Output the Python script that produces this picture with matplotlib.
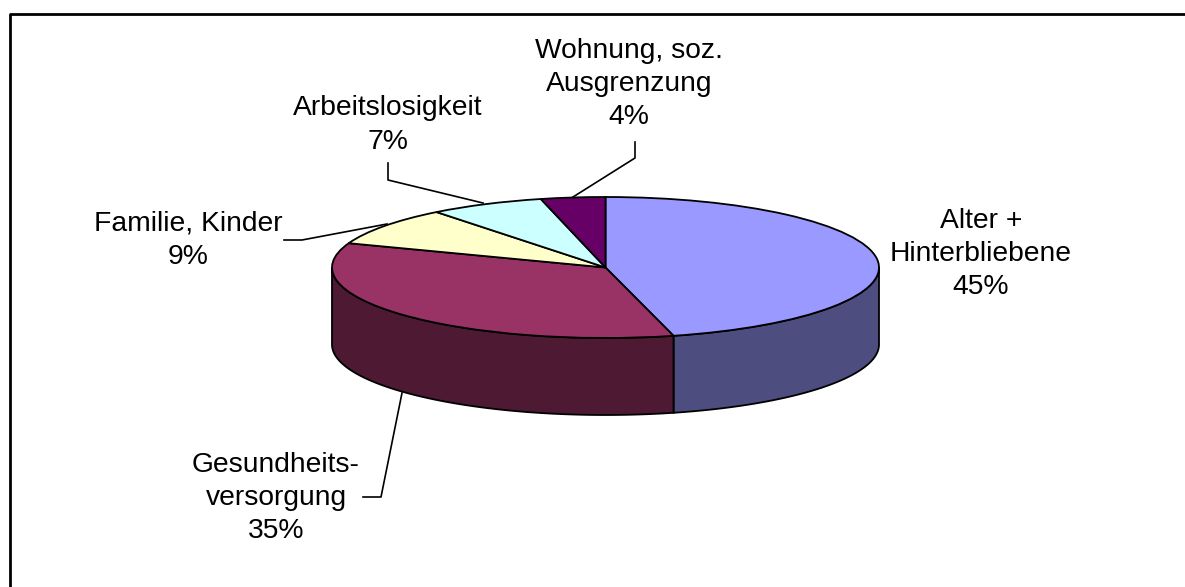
import numpy as np
import matplotlib
matplotlib.use('Agg')
import matplotlib.pyplot as plt
from matplotlib.transforms import Affine2D

plt.rcParams['font.family'] = ['Liberation Sans', 'DejaVu Sans']

W, H = 1185, 587

categories = ['Alter +\nHinterbliebene', 'Gesundheits-\nversorgung', 'Familie, Kinder',
              'Arbeitslosigkeit', 'Wohnung, soz.\nAusgrenzung']
values = [46, 34.6, 8.8, 6.8, 3.8]
pct_labels = ['45%', '35%', '9%', '7%', '4%']
top_colors = ['#9999FF', '#993366', '#FFFFCC', '#CCFFFF', '#660066']
side_colors = ['#4D4D80', '#4D1933', '#808066', '#668080', '#330033']

CX, CY = 605.5, 267.5
RX, RY = 273.5, 70.5
DEPTH = 77

fig = plt.figure(figsize=(W / 100, H / 100), dpi=100)
ax = fig.add_axes([0, 0, 1, 1])

# same wedges as the top face, squashed by the free aspect below
wedges, _ = ax.pie(values, colors=top_colors, startangle=90, counterclock=False,
                   radius=1, center=(0, 0),
                   wedgeprops=dict(edgecolor='black', linewidth=1.3, zorder=5))
ax.set_aspect('auto')

# pixel coordinates: unit circle is scaled with a transform on the wedges
to_px = Affine2D().scale(RX, -RY).translate(CX, CY) + ax.transData
for w in wedges:
    w.set_transform(to_px)

ax.set_xlim(0, W)
ax.set_ylim(H, 0)
ax.axis('off')

# side wall, only the front half is visible
edges = np.cumsum([0] + values) / sum(values) * 360
for i in range(len(values)):
    start = max(edges[i], 90)
    end = min(edges[i + 1], 270)
    if end <= start:
        continue
    t = np.radians(np.linspace(start, end, 120))
    x = CX + RX * np.sin(t)
    y = CY - RY * np.cos(t)
    ax.fill(np.r_[x, x[::-1]], np.r_[y, y[::-1] + DEPTH], facecolor=side_colors[i],
            edgecolor='black', linewidth=1.3, zorder=3)

# leader lines: (x points, y points) in pixels
leaders = [
    ([402, 381, 363], [393, 497, 497]),
    ([387, 302, 284], [224, 240, 240]),
    ([483, 388, 388], [203, 180, 163]),
    ([573, 635, 635], [197, 158, 142]),
]
for xs, ys in leaders:
    ax.plot(xs, ys, color='black', linewidth=1.2, zorder=6)

label_pos = [(981, 254), (276, 498), (188, 240), (388, 125), (629, 84)]
for cat, pct, (lx, ly) in zip(categories, pct_labels, label_pos):
    ax.text(lx, ly, cat + '\n' + pct, ha='center', va='center', fontsize=20.3,
            linespacing=1.36, color='black', zorder=7)

# chart frame
ax.plot([10.3, 10.3, W], [H, 13.7, 13.7], color='black', linewidth=2, zorder=8, clip_on=False)

fig.savefig('out.png', dpi=100)
